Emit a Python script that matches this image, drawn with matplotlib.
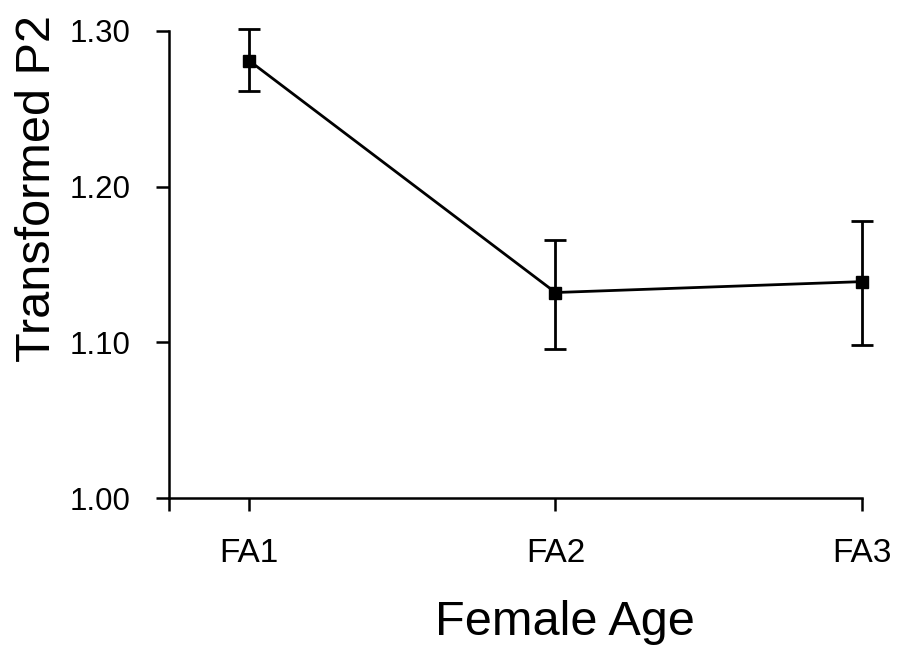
import matplotlib
matplotlib.use("Agg")
import matplotlib.pyplot as plt
from matplotlib.ticker import FormatStrFormatter

# data
groups = ["FA1", "FA2", "FA3"]
means = [1.281, 1.132, 1.139]
err_low = [0.0195, 0.036, 0.041]
err_high = [0.020, 0.034, 0.039]
yticks = [1.00, 1.10, 1.20, 1.30]

plt.rcParams['font.family'] = ['Liberation Sans', 'DejaVu Sans']

fig = plt.figure(figsize=(9.06, 6.5), dpi=100)
ax = fig.add_axes([169 / 906, 1 - 498 / 650, (862 - 169) / 906, (498 - 31) / 650])

x = list(range(len(groups)))
ax.errorbar(x, means, yerr=[err_low, err_high], color='black', linewidth=2.0,
            marker='s', markersize=9, elinewidth=2.0, capsize=8, capthick=2.0,
            clip_on=False, zorder=3)

xmin = -0.261
ax.set_xlim(xmin, len(groups) - 1)
ax.set_ylim(yticks[0], yticks[-1])
ax.set_xticks([xmin] + x)
ax.set_xticklabels([''] + groups)
ax.set_yticks(yticks)
ax.yaxis.set_major_formatter(FormatStrFormatter('%.2f'))

for side in ['top', 'right']:
    ax.spines[side].set_visible(False)
for side in ['left', 'bottom']:
    ax.spines[side].set_linewidth(1.8)

ax.tick_params(axis='both', direction='out', length=9.5, width=1.8)
ax.tick_params(axis='x', pad=19, labelsize=24)
ax.tick_params(axis='y', pad=18, labelsize=22.5)

fig.text(50 / 906, 1 - 188.5 / 650, "Transformed P2", fontsize=35, rotation=90,
         rotation_mode='anchor', ha='center', va='baseline')
fig.text(565 / 906, 1 - 635 / 650, "Female Age", fontsize=35,
         ha='center', va='baseline')

fig.savefig("out.png", dpi=100)
